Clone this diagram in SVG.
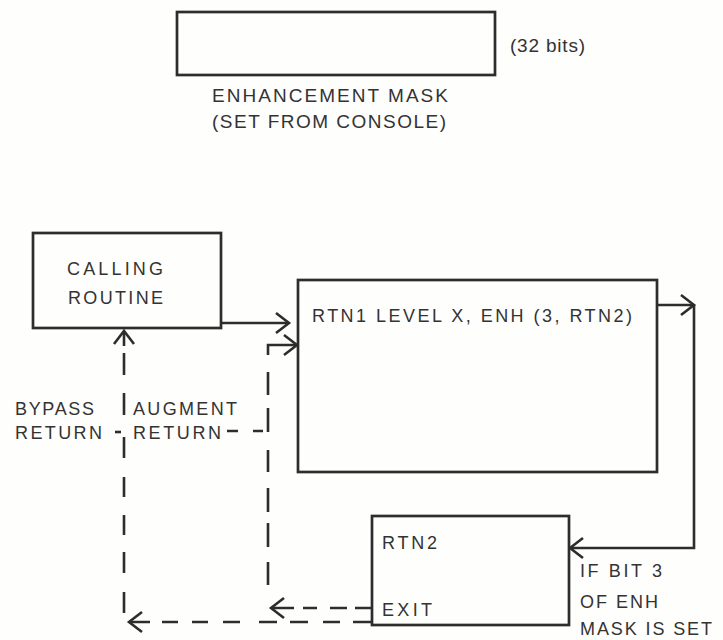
<svg xmlns="http://www.w3.org/2000/svg" width="723" height="640" viewBox="0 0 723 640">
  <style>
    .box { fill: none; stroke: #2d2d2d; stroke-width: 2.7; }
    .ln { fill: none; stroke: #2d2d2d; stroke-width: 2.6; }
    .t { font-family: "Liberation Sans", Arial, sans-serif; font-size: 18px; fill: #333; }
    .tb { font-family: "Liberation Sans", Arial, sans-serif; font-size: 19px; fill: #333; }
  </style>
  <defs>
    <marker id="arr" markerUnits="userSpaceOnUse" viewBox="-16 -13 20 26" markerWidth="20" markerHeight="26" refX="0" refY="0" orient="auto">
      <path d="M-13 -10 L0 0 L-13 10" fill="none" stroke="#2d2d2d" stroke-width="2.6" stroke-linejoin="miter"/>
    </marker>
  </defs>
  <rect width="723" height="640" fill="#fefefd"/>

  <g id="mask">
    <rect class="box" x="177" y="12" width="318" height="63"/>
    <text class="tb" x="510" y="52" textLength="75" lengthAdjust="spacing">(32 bits)</text>
    <text class="tb" x="212" y="102" textLength="236" lengthAdjust="spacing">ENHANCEMENT MASK</text>
    <text class="tb" x="212" y="128" textLength="234" lengthAdjust="spacing">(SET FROM CONSOLE)</text>
  </g>

  <g id="calling">
    <rect class="box" x="33" y="233" width="188" height="95"/>
    <text class="t" x="67" y="275" textLength="96" lengthAdjust="spacing">CALLING</text>
    <text class="t" x="68" y="304" textLength="95" lengthAdjust="spacing">ROUTINE</text>
  </g>

  <g id="rtn1">
    <rect class="box" x="298" y="280" width="359" height="192"/>
    <text class="t" x="312" y="322" textLength="320" lengthAdjust="spacing">RTN1 LEVEL X, ENH (3, RTN2)</text>
  </g>

  <g id="rtn2">
    <rect class="box" x="372" y="516" width="197" height="109"/>
    <text class="t" x="382" y="549" textLength="55" lengthAdjust="spacing">RTN2</text>
    <text class="t" x="382" y="616" textLength="50" lengthAdjust="spacing">EXIT</text>
  </g>

  <g id="labels">
    <text class="t" x="15" y="415" textLength="79" lengthAdjust="spacing">BYPASS</text>
    <text class="t" x="15" y="439" textLength="87" lengthAdjust="spacing">RETURN</text>
    <text class="t" x="133" y="415" textLength="104" lengthAdjust="spacing">AUGMENT</text>
    <text class="t" x="133" y="439" textLength="88" lengthAdjust="spacing">RETURN</text>
    <text class="t" x="580" y="577" textLength="82" lengthAdjust="spacing">IF BIT 3</text>
    <text class="t" x="580" y="608" textLength="78" lengthAdjust="spacing">OF ENH</text>
    <text class="t" x="580" y="635" textLength="132" lengthAdjust="spacing">MASK IS SET</text>
  </g>

  <g id="connectors">
    <path class="ln" d="M221 323 H289" marker-end="url(#arr)"/>
    <path class="ln" d="M657 305 H694" marker-end="url(#arr)"/>
    <path class="ln" d="M694 305 V548 H570" marker-end="url(#arr)"/>
    <!-- augment return (dashed) -->
    <path class="ln" d="M268 585 V562 M268 547 V523 M268 512 V488 M268 472 V450 M268 432 V408 M268 395 V372 M268 355 V345 H297" marker-end="url(#arr)"/>
    <path class="ln" d="M263 431 H253 M238 431 H227"/>
    <!-- bypass return (dashed) -->
    <path class="ln" d="M124 613 V592 M124 573 V552 M124 535 V515 M124 497 V477 M124 458 V437 M124 415 V393 M124 375 V353 M124 346 V331" marker-end="url(#arr)"/>
    <path class="ln" d="M115 432 H121"/>
    <!-- exit arrows (dashed) -->
    <path class="ln" d="M372 608 H355 M347 608 H330 M317 608 H303 M294 608 H271" marker-end="url(#arr)"/>
    <path class="ln" d="M372 622 H353 M340 622 H323 M308 622 H290 M277 622 H259 M240 622 H223 M208 622 H192 M178 622 H162 M150 622 H129" marker-end="url(#arr)"/>
  </g>
</svg>
